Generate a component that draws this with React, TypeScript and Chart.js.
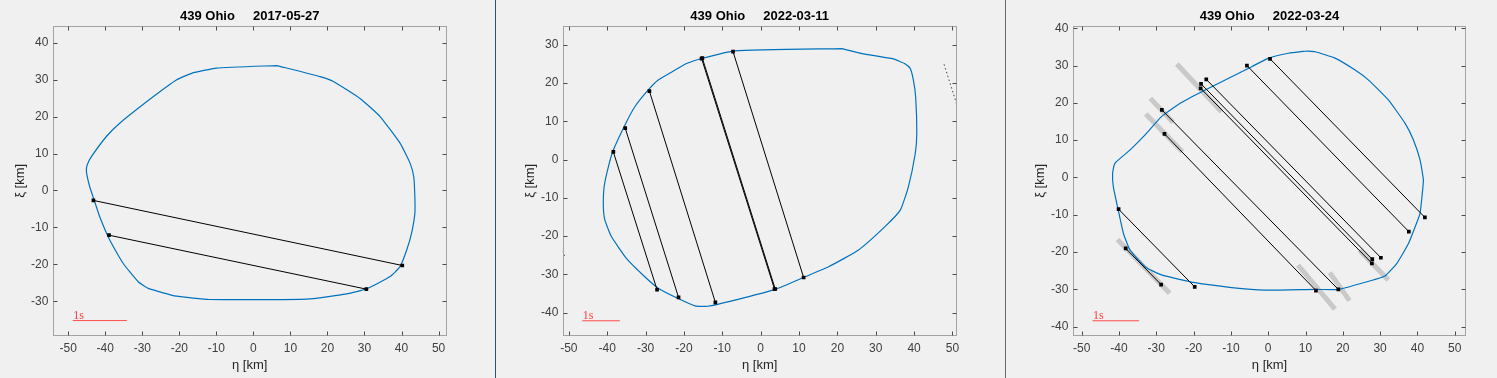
import React, { useEffect, useRef } from 'react';
import { Chart, registerables } from 'chart.js';
Chart.register(...registerables);

// ---------- tick labels ----------
const etaTicks = [-50, -40, -30, -20, -10, 0, 10, 20, 30, 40, 50];
const xiTicks1 = [-30, -20, -10, 0, 10, 20, 30, 40];
const xiTicks2 = [-40, -30, -20, -10, 0, 10, 20, 30];
const xiTicks3 = [-40, -30, -20, -10, 0, 10, 20, 30, 40];

const titles = ['439 Ohio     2017-05-27', '439 Ohio     2022-03-11', '439 Ohio     2022-03-24'];

// ---------- panel 1 : 2017-05-27 ----------
const outline1Eta = [6.3, -10.0, -16.7, -20.8, -27.0, -36.1, -39.7, -43.7, -44.9, -45.1, -44.2, -43.0, -41.5, -38.8, -35.2, -31.1, -28.4, -20.8, -11.8, 14.4, 25.2, 30.6, 36.9, 39.6, 41.4, 42.7, 43.6, 43.6, 43.3, 42.3, 39.6, 34.2, 28.8, 21.6, 18.0, 6.3];
const outline1Xi = [33.8, 33.1, 31.7, 29.9, 25.4, 18.2, 14.6, 9.2, 6.9, 5.1, 1.0, -2.6, -7.1, -13.4, -19.7, -24.7, -26.5, -28.6, -29.5, -29.4, -28.0, -26.6, -23.3, -20.6, -16.1, -11.6, -6.2, -1.7, 3.7, 7.4, 12.8, 20.0, 24.9, 29.5, 30.8, 33.8];
const chords1 = [
  [-43.2, -2.7, 40.2, -20.3],
  [-39.0, -12.1, 30.5, -26.7],
];
const scaleBar1 = [-48.8, -34.2, -35.2];

// ---------- panel 2 : 2022-03-11 ----------
const outline2Eta = [21.1, -6.7, -15.4, -19.3, -22.3, -26.7, -29.3, -32.8, -35.4, -38.4, -39.7, -40.8, -41.0, -40.6, -38.9, -35.0, -30.2, -26.7, -21.5, -17.1, -13.7, -6.7, 3.8, 11.6, 17.7, 25.5, 32.4, 36.4, 38.5, 40.3, 40.7, 40.4, 39.8, 39.0, 37.7, 34.6, 26.4, 21.1];
const outline2Xi = [29.0, 28.4, 26.4, 25.1, 23.4, 20.8, 18.2, 13.8, 9.0, 2.5, -1.9, -7.1, -12.3, -15.8, -20.1, -25.8, -30.6, -33.6, -36.3, -38.2, -38.3, -36.7, -33.9, -30.6, -28.0, -23.6, -17.5, -13.2, -7.1, 1.6, 6.8, 16.4, 20.8, 23.8, 25.0, 26.3, 27.7, 29.0];
const chords2 = [
  [-38.4, 2.0, -27.0, -34.0],
  [-35.3, 8.2, -21.4, -36.0],
  [-29.0, 17.9, -11.8, -37.3],
  [-15.4, 26.4, 3.6, -33.8],
  [-15.2, 26.5, 3.8, -33.8],
  [-7.2, 28.2, 11.2, -30.8],
];
const negChords2 = [
  [47.8, 24.9, 52.0, 11.6],
  [-52.2, -21.8, -51.0, -25.6],
];
const scaleBar2 = [-46.5, -36.7, -42.1];

// ---------- panel 3 : 2022-03-24 ----------
const outline3Eta = [10.3, 12.6, 17.9, 23.3, 26.9, 32.2, 36.7, 38.9, 40.7, 41.6, 41.3, 40.7, 39.4, 37.6, 34.5, 31.3, 28.7, 18.8, 12.6, -0.9, -9.8, -19.6, -28.6, -33.0, -37.0, -38.8, -40.2, -41.5, -41.7, -41.1, -37.0, -33.0, -28.6, -23.6, -17.8, -9.8, -4.4, 0.1, 5.4, 10.3];
const outline3Xi = [33.9, 33.7, 32.0, 28.8, 26.1, 20.8, 14.5, 10.1, 4.7, -0.7, -4.3, -9.6, -13.2, -17.7, -23.0, -26.4, -27.3, -30.0, -30.0, -30.2, -29.5, -28.2, -26.1, -23.9, -19.5, -15.0, -8.7, -2.5, 1.1, 3.8, 7.4, 11.4, 16.3, 19.9, 23.0, 27.0, 29.7, 32.0, 33.3, 33.9];
const chords3 = [
  [0.5, 31.8, 42.0, -10.7],
  [-5.7, 30.0, 37.7, -14.5],
  [-16.6, 26.3, 30.2, -21.5],
  [-18.0, 25.1, 27.9, -21.9],
  [-18.1, 23.9, 27.8, -23.0],
  [-28.5, 18.1, 18.8, -30.0],
  [-27.8, 11.7, 12.8, -30.3],
  [-40.1, -8.5, -19.7, -29.3],
  [-38.2, -19.0, -28.7, -28.7],
];
const errBars3 = [
  [-24.5, 30.4, -12.5, 17.6],
  [24.5, -19.5, 32.2, -27.5],
  [-31.6, 21.2, -25.5, 14.8],
  [16.5, -25.5, 21.8, -33.0],
  [-32.8, 17.0, -23.0, 6.9],
  [8.0, -23.5, 17.9, -35.3],
  [-40.4, -16.6, -26.4, -31.0],
];
const scaleBar3 = [-47.1, -34.6, -38.4];

// ---------- axis ranges ----------
const ranges = [
  { xMin: -54.2, xMax: 52.2, yMin: -39.3, yMax: 44.5 },
  { xMin: -51.6, xMax: 51.1, yMin: -46.0, yMax: 34.9 },
  { xMin: -52.4, xMax: 53.1, yMin: -42.4, yMax: 40.6 },
];

const SANS = '"Liberation Sans", Arial, Helvetica, sans-serif';
const SERIF = '"Liberation Serif", "Times New Roman", serif';

const seg = (c: number[]) => [{ x: c[0], y: c[1] }, { x: c[2], y: c[3] }];
const poly = (e: number[], k: number[]) => e.map((v, i) => ({ x: v, y: k[i] }));

const framePlugin = {
  id: 'frame',
  afterDatasetsDraw(chart: any, _args: any, opts: any) {
    const { ctx, chartArea: a, scales } = chart;
    const x = scales.x, y = scales.y;
    ctx.save();
    ctx.lineWidth = 1;
    ctx.strokeStyle = '#a3a3a3';
    const L = Math.round(a.left) + 0.5, R = Math.round(a.right) - 0.5;
    const T = Math.round(a.top) + 0.5, B = Math.round(a.bottom) - 0.5;
    ctx.strokeRect(L, T, R - L, B - T);
    ctx.strokeStyle = '#4a4a4a';
    ctx.beginPath();
    const tl = 4;
    x.ticks.forEach((t: any) => {
      const px = Math.round(x.getPixelForValue(t.value)) + 0.5;
      ctx.moveTo(px, B); ctx.lineTo(px, B - tl);
      ctx.moveTo(px, T); ctx.lineTo(px, T + tl);
    });
    y.ticks.forEach((t: any) => {
      const py = Math.round(y.getPixelForValue(t.value)) + 0.5;
      ctx.moveTo(L, py); ctx.lineTo(L + tl, py);
      ctx.moveTo(R, py); ctx.lineTo(R - tl, py);
    });
    ctx.stroke();
    const sb = opts.scaleBar;
    if (sb) {
      ctx.fillStyle = '#ff3b3b';
      ctx.font = '12px ' + SERIF;
      ctx.textBaseline = 'alphabetic';
      ctx.textAlign = 'left';
      ctx.fillText('1s', x.getPixelForValue(sb[0]) + 0.5, y.getPixelForValue(sb[2]) - 1.5);
    }
    ctx.restore();
  },
};

type PanelProps = {
  idx: number;
  left: number;
  width: number;
  padLeft: number;
  padRight: number;
};

function buildDatasets(idx: number) {
  const ds: any[] = [];
  const chordStyle = (c: number[]) => ({
    data: seg(c),
    showLine: true,
    borderColor: '#000000',
    borderWidth: 1,
    pointStyle: 'rect',
    pointRadius: 2.6,
    pointBackgroundColor: '#000000',
    pointBorderWidth: 0,
    order: 0,
  });
  const outlineStyle = (d: any[]) => ({
    data: d,
    showLine: true,
    borderColor: '#0072BD',
    borderWidth: 1.2,
    pointRadius: 0,
    tension: 0.15,
    order: 1,
  });
  const redStyle = (s: number[]) => ({
    data: [{ x: s[0], y: s[2] }, { x: s[1], y: s[2] }],
    showLine: true,
    borderColor: '#ff4d4d',
    borderWidth: 1,
    pointRadius: 0,
    order: 0,
  });
  if (idx === 0) {
    ds.push(outlineStyle(poly(outline1Eta, outline1Xi)));
    chords1.forEach((c) => ds.push(chordStyle(c)));
    ds.push(redStyle(scaleBar1));
  } else if (idx === 1) {
    ds.push(outlineStyle(poly(outline2Eta, outline2Xi)));
    chords2.forEach((c) => ds.push(chordStyle(c)));
    negChords2.forEach((c) =>
      ds.push({
        data: seg(c),
        showLine: true,
        borderColor: '#444444',
        borderWidth: 1,
        borderDash: [1.5, 2.5],
        pointRadius: 0,
        order: 0,
      })
    );
    ds.push(redStyle(scaleBar2));
  } else {
    errBars3.forEach((c) =>
      ds.push({
        data: seg(c),
        showLine: true,
        borderColor: '#c9c9c9',
        borderWidth: 5,
        pointRadius: 0,
        order: 2,
      })
    );
    ds.push(outlineStyle(poly(outline3Eta, outline3Xi)));
    chords3.forEach((c) => ds.push(chordStyle(c)));
    ds.push(redStyle(scaleBar3));
  }
  return ds;
}

function Panel({ idx, left, width, padLeft, padRight }: PanelProps) {
  const ref = useRef<HTMLCanvasElement>(null);
  useEffect(() => {
    if (!ref.current) return;
    const r = ranges[idx];
    const yTicks = idx === 0 ? xiTicks1 : idx === 1 ? xiTicks2 : xiTicks3;
    const sb = idx === 0 ? scaleBar1 : idx === 1 ? scaleBar2 : scaleBar3;
    const chart = new Chart(ref.current, {
      type: 'scatter',
      data: { datasets: buildDatasets(idx) },
      plugins: [framePlugin],
      options: {
        animation: false,
        responsive: false,
        devicePixelRatio: 1,
        events: [],
        layout: { padding: { left: padLeft, right: padRight, top: 0, bottom: 0 } },
        plugins: {
          legend: { display: false },
          tooltip: { enabled: false },
          title: {
            display: true,
            text: titles[idx],
            color: '#000000',
            fullSize: false,
            font: { family: SANS, size: 13, weight: 'bold' },
            padding: { top: 8.5, bottom: 1.9 },
          },
          frame: { scaleBar: sb },
        } as any,
        scales: {
          x: {
            type: 'linear',
            min: r.xMin,
            max: r.xMax,
            grid: { display: false, drawTicks: false },
            border: { display: false },
            afterBuildTicks: (s: any) => { s.ticks = etaTicks.map((v) => ({ value: v })); },
            afterFit: (s: any) => { s.height = 42.3; },
            ticks: { color: '#404040', padding: 6, maxRotation: 0, font: { family: SANS, size: 12 } },
            title: {
              display: true,
              text: 'η [km]',
              color: '#262626',
              font: { family: SANS, size: 13 },
              padding: { top: 0, bottom: 5.2 },
            },
          },
          y: {
            type: 'linear',
            min: r.yMin,
            max: r.yMax,
            grid: { display: false, drawTicks: false },
            border: { display: false },
            afterBuildTicks: (s: any) => { s.ticks = yTicks.map((v) => ({ value: v })); },
            afterFit: (s: any) => { s.width = 45; },
            ticks: { color: '#404040', padding: 4.4, font: { family: SANS, size: 12 } },
            title: {
              display: true,
              text: 'ξ [km]',
              color: '#262626',
              font: { family: SANS, size: 13 },
              padding: { top: 5.2, bottom: 0 },
            },
          },
        },
      } as any,
    });
    return () => chart.destroy();
  }, [idx]);
  return (
    <canvas
      ref={ref}
      width={width}
      height={378}
      style={{ position: 'absolute', left, top: 0, width, height: 378 }}
    />
  );
}

export default function App() {
  return (
    <div
      style={{
        position: 'absolute',
        left: 0,
        top: 0,
        width: 1497,
        height: 378,
        background: '#f0f0f0',
        overflow: 'hidden',
      }}
    >
      <Panel idx={0} left={0} width={495} padLeft={7.7} padRight={48.3} />
      <div style={{ position: 'absolute', left: 495, top: 0, width: 1, height: 378, background: '#2b5573' }} />
      <Panel idx={1} left={496} width={509} padLeft={21.7} padRight={48.3} />
      <div style={{ position: 'absolute', left: 1005, top: 0, width: 1, height: 378, background: '#6a6a6a' }} />
      <Panel idx={2} left={1006} width={491} padLeft={21.7} padRight={30.7} />
    </div>
  );
}
